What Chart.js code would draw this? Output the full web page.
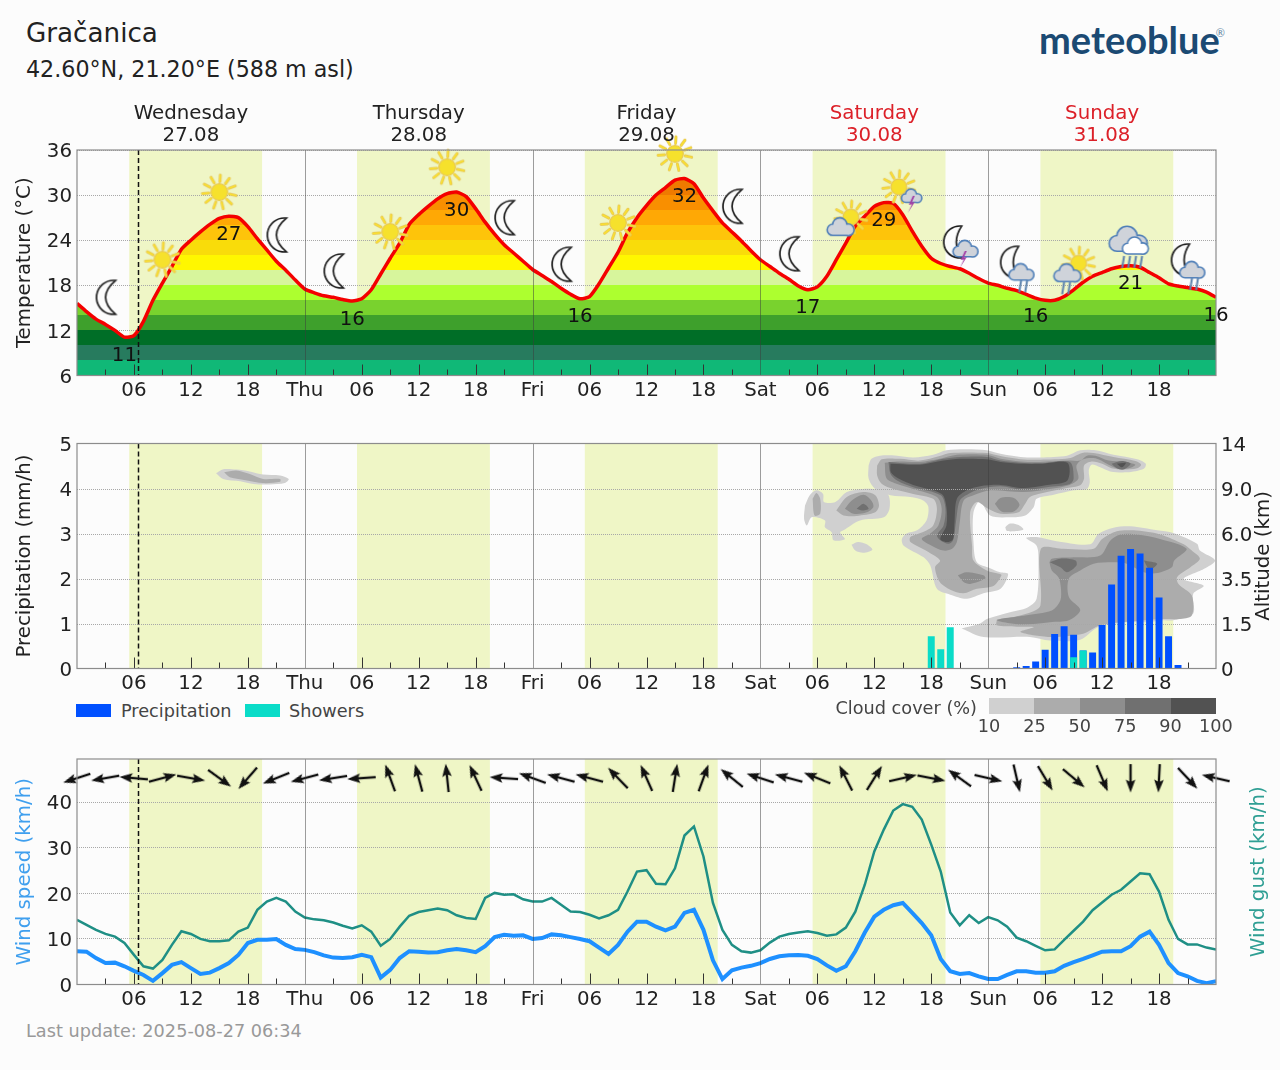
<!DOCTYPE html>
<html>
<head>
<meta charset="utf-8">
<title>Gračanica</title>
<script src="https://cdn.jsdelivr.net/npm/chart.js@4/dist/chart.umd.js"></script>
<style>
    html, body { margin: 0; padding: 0; background: #fcfcfc; }
    body { position: relative; width: 1280px; height: 1070px; overflow: hidden; font-family: "DejaVu Sans", sans-serif; color: #222; }
    canvas { position: absolute; left: 0; }
    .txt { position: absolute; white-space: nowrap; line-height: 1; }
    .swatch { position: absolute; box-sizing: border-box; }
</style>
</head>
<body>
<div class="txt" style="left:26px;top:20px;font-size:26.2px;">Gračanica</div>
<div class="txt" style="left:26px;top:58px;font-size:22.2px;">42.60°N, 21.20°E (588 m asl)</div>
<div class="txt" style="left:1039px;top:20px;font-family:Lato;font-weight:700;font-size:38px;color:#1b4a73;">meteoblue<sup style="font-size:11px;color:#5f87a5;font-weight:400;vertical-align:17px;line-height:0;margin-left:-4px;">®</sup></div>
<div class="txt" style="left:26px;top:1023px;font-size:17.7px;color:#999;">Last update: 2025-08-27 06:34</div>

<canvas id="tempGraph" width="1280" height="320" style="top:90px"></canvas>
<canvas id="precipGraph" width="1280" height="290" style="top:410px"></canvas>
<div id="legendBox"></div>
<canvas id="windGraph" width="1280" height="290" style="top:725px"></canvas>

<script>
/* time axis: hours since Wednesday 00:00 */
const hours = Array.from({length: 121}, (_, i) => i);
const dayNames = ['Wednesday', 'Thursday', 'Friday', 'Saturday', 'Sunday'];
const dayDates = ['27.08', '28.08', '29.08', '30.08', '31.08'];
const dayColors = ['#222222', '#222222', '#222222', '#dc2028', '#dc2028'];
const dayNoons = [12, 36, 60, 84, 108];
const dayShort = ['Thu', 'Fri', 'Sat', 'Sun'];
const daylightStart = [5.5, 29.5, 53.5, 77.5, 101.5];
const daylightEnd = [19.5, 43.5, 67.5, 91.5, 115.5];
const nowHour = 6.4;

/* temperature */
const temperatures = [
    15.6, 14.5, 13.5, 12.8, 12.0, 11.1, 11.3, 13.2, 16.0, 18.3, 20.5, 22.8, 24.0, 25.1, 26.1, 26.9, 27.2, 27.0, 25.8, 24.2, 22.7, 21.2, 20.0, 18.7,
    17.5, 17.0, 16.6, 16.4, 16.1, 15.9, 16.2, 17.4, 19.5, 21.6, 23.6, 26.1, 27.4, 28.5, 29.5, 30.2, 30.4, 29.8, 28.2, 26.4, 24.8, 23.4, 22.3, 21.2,
    20.1, 19.3, 18.5, 17.6, 16.8, 16.2, 16.5, 18.2, 20.3, 22.4, 25.0, 27.0, 28.6, 30.0, 31.0, 32.0, 32.2, 31.5, 29.6, 27.9, 26.3, 25.1, 23.9, 22.6,
    21.4, 20.5, 19.6, 18.8, 17.9, 17.4, 17.8, 19.2, 21.4, 23.6, 25.9, 27.2, 28.5, 29.0, 28.9, 27.4, 25.2, 23.2, 21.6, 20.9, 20.5, 20.2, 19.6, 18.9,
    18.3, 18.0, 17.6, 17.3, 16.8, 16.3, 16.0, 16.0, 16.5, 17.4, 18.4, 19.2, 19.7, 20.2, 20.5, 20.6, 20.4, 19.7, 19.0, 18.2, 17.9, 17.7, 17.5, 17.1, 16.4
];
const tempLabelHours = [5, 16, 29, 40, 53, 64, 77, 85, 101, 111, 120];
const tempBandEdges = [6, 8, 10, 12, 14, 16, 18, 20, 22, 24, 26, 28, 30, 32, 36];
const tempBandColors = ['#10b877', '#277b5e', '#006e27', '#3ea02c', '#79d22e', '#adff2f', '#d7f59c', '#fff700', '#f9dc0a', '#fec40a', '#ffa805', '#f98f00', '#ef7a00', '#e86000'];

/* weather symbols */
const iconHours = [3, 9, 15, 21, 27, 33, 39, 45, 51, 57, 63, 69, 75, 81, 87, 93, 99, 105, 111, 117];
const iconLevels = [16.4, 21.4, 30.4, 24.7, 19.9, 25.1, 33.7, 27.0, 20.8, 26.3, 35.5, 28.5, 22.2, 26.4, 30.3, 22.7, 20.0, 20.0, 22.7, 20.3];
const iconKinds = ['moon', 'sun', 'sun', 'moon', 'moon', 'sun', 'sun', 'moon', 'moon', 'sun', 'sun', 'moon', 'moon', 'sunCloud', 'sunStorm', 'moonStorm', 'moonRain', 'sunRain', 'rainCloud', 'moonRain'];

/* precipitation */
const precipHours = [99, 100, 101, 102, 103, 104, 105, 106, 107, 108, 109, 110, 111, 112, 113, 114, 115, 116];
const precipValues = [0.02, 0.05, 0.15, 0.41, 0.76, 0.93, 0.74, 0.39, 0.35, 0.96, 1.86, 2.50, 2.65, 2.55, 2.23, 1.57, 0.71, 0.07];
const showerHours = [90, 91, 92, 105, 106];
const showerValues = [0.71, 0.42, 0.91, 0.24, 0.39];
const altitudeTicks = ['0', '1.5', '3.5', '6.0', '9.0', '14'];

/* cloud cover outlines as [hour, altitude level] */
const cloudLevels = [10, 25, 50, 75, 90, 100];
const cloudColors = ['#d0d0d0', '#acacac', '#8e8e8e', '#707070', '#525252'];
const cloud10Shapes = [
    [[14.65,4.34],[15.4,4.43],[16.8,4.42],[18.2,4.38],[19.6,4.31],[21.4,4.29],[22.3,4.21],[21.9,4.12],[20.3,4.09],[18.6,4.10],[17.2,4.16],[15.4,4.21]],
    [[76.7,3.62],[77.2,3.85],[77.9,3.96],[78.6,3.88],[78.7,3.70],[79.9,3.70],[81.1,3.92],[82.85,3.99],[84.6,3.96],[85.5,3.85],[85.6,3.55],[85.0,3.36],[82.5,3.29],[80.75,3.07],[80.4,3.02],[80.9,2.87],[79.7,2.85],[79.5,3.03],[78.8,3.14],[78.8,3.29],[77.4,3.36],[76.9,3.18],[76.6,3.33]],
    [[81.6,2.75],[82.3,2.81],[83.2,2.76],[83.8,2.64],[82.85,2.57],[82.0,2.62]],
    [[97.8,3.14],[98.3,3.22],[99.2,3.19],[99.7,3.09],[98.65,3.05],[97.95,3.06]],
    [[83.4,4.51],[83.7,4.66],[84.6,4.73],[86.4,4.73],[88.1,4.69],[90.2,4.75],[91.6,4.85],[93.7,4.87],[95.85,4.85],[97.3,4.77],[99.4,4.70],[101.5,4.69],[104.3,4.73],[105.7,4.85],[107.3,4.85],[109.2,4.75],[111.7,4.65],[112.6,4.55],[112.4,4.44],[110.6,4.36],[108.85,4.38],[107.8,4.47],[106.9,4.53],[106.6,4.40],[106.7,4.14],[106.4,3.99],[105.0,3.96],[102.9,3.86],[101.1,3.77],[100.8,3.59],[99.9,3.40],[98.3,3.36],[96.2,3.40],[95.15,3.73],[94.45,3.47],[94.45,2.81],[94.8,2.36],[96.2,2.23],[97.25,2.14],[98.1,2.10],[97.3,1.77],[95.5,1.67],[93.75,1.55],[92.0,1.64],[90.6,1.77],[89.9,2.29],[89.2,2.47],[87.1,2.73],[86.9,2.88],[87.4,3.0],[88.5,3.07],[89.5,3.29],[89.7,3.59],[89.2,3.73],[87.8,3.81],[85.7,3.85],[84.1,3.99],[83.4,4.22]],
    [[93.2,0.89],[95.15,1.0],[95.85,1.1],[98.3,1.25],[100.1,1.35],[101.1,1.55],[101.3,2.4],[101.1,2.73],[100.0,2.9],[101.1,2.92],[103.2,2.83],[106.75,2.76],[107.6,2.99],[109.2,3.13],[111.0,3.16],[113.8,3.07],[115.5,3.01],[118,2.77],[118.3,2.62],[119.9,2.4],[118.7,2.21],[116.6,1.99],[118.7,1.84],[117.6,1.66],[117.6,1.22],[115.5,1.07],[114.5,1.07],[112.7,1.03],[110.6,1.03],[107.6,0.92],[105.7,0.64],[102.5,0.62],[100.4,0.70],[95.5,0.70]]
];
const cloud25Shapes = [
    [[15.5,4.36],[16.8,4.4],[18.2,4.32],[19.6,4.21],[21.4,4.21],[21.4,4.15],[19.6,4.12],[17.9,4.18],[16.1,4.25]],
    [[77.5,3.77],[77.9,3.90],[78.3,3.77],[78.3,3.44],[77.7,3.40]],
    [[80.0,3.51],[81.1,3.81],[82.85,3.92],[84.1,3.85],[84.5,3.62],[84.1,3.47],[82.15,3.39],[80.75,3.40]],
    [[84.3,4.51],[84.8,4.65],[86.7,4.66],[88.8,4.62],[90.9,4.72],[92.0,4.79],[95.85,4.79],[97.3,4.72],[99.4,4.65],[101.5,4.64],[104.5,4.67],[105.9,4.79],[107.1,4.79],[109.2,4.70],[111.5,4.61],[112.1,4.53],[111.7,4.45],[110.25,4.42],[109.0,4.45],[108.0,4.55],[106.9,4.60],[106.1,4.51],[106.1,4.22],[105.7,4.07],[104.3,4.01],[102.2,3.92],[100.4,3.81],[99.9,3.66],[99.2,3.47],[97.3,3.44],[96.0,3.55],[94.8,3.70],[94.1,3.47],[94.3,2.73],[94.45,2.40],[95.85,2.18],[97.25,2.10],[97.4,2.07],[96.6,1.84],[94.8,1.77],[93.4,1.67],[92.0,1.75],[90.9,1.92],[90.4,2.25],[90.93,2.40],[89.7,2.59],[87.8,2.81],[87.8,2.92],[89.0,3.02],[90.2,3.18],[90.6,3.55],[90.2,3.77],[88.1,3.88],[86.0,3.99],[84.8,4.10],[84.3,4.29]],
    [[96.9,1.07],[100.1,1.22],[101.5,1.40],[101.55,2.66],[103.9,2.66],[107.1,2.66],[108,2.88],[109.55,3.05],[111.3,3.07],[114.1,2.98],[116.6,2.76],[117.45,2.62],[118.3,2.44],[117.3,2.25],[115.9,2.03],[116.05,1.88],[117.45,1.62],[117.45,1.18],[116.05,1.10],[114.5,1.1],[112.4,1.07],[107.8,0.96],[106.0,0.77],[102.5,0.70],[99.4,0.81],[100.8,0.92],[99.0,0.93],[96.9,0.96]]
];
const cloud50Shapes = [
    [[80.9,3.55],[81.6,3.73],[82.85,3.86],[83.7,3.73],[83.9,3.59],[83.2,3.47],[81.8,3.44]],
    [[92.8,2.07],[93.7,2.14],[95.5,2.07],[95.7,2.0],[94.1,1.88],[93.4,1.92]],
    [[96.7,3.66],[97.3,3.79],[98.7,3.79],[99.3,3.64],[98.7,3.49],[97.4,3.49]],
    [[85.1,4.57],[86.4,4.60],[88.8,4.59],[90.9,4.66],[92.7,4.75],[95.85,4.75],[97.3,4.66],[99.4,4.60],[101.5,4.59],[104.6,4.62],[105.7,4.62],[106.4,4.73],[107.3,4.73],[108.7,4.62],[110.25,4.59],[111.5,4.53],[110.8,4.45],[109.55,4.45],[108.5,4.55],[107.3,4.67],[106.0,4.65],[105.3,4.51],[105.5,4.22],[104.6,4.08],[102.5,3.99],[99.7,3.92],[96.2,3.96],[94.45,3.85],[93.4,3.73],[93.0,3.25],[92.7,2.81],[92.2,2.66],[91.3,2.62],[90.05,2.73],[89.0,2.88],[89.9,3.0],[90.75,3.18],[91.1,3.55],[90.6,3.81],[88.1,3.99],[86.4,4.10],[85.3,4.22]],
    [[102.45,2.36],[102.7,2.44],[105,2.47],[107.8,2.51],[108.85,2.84],[109.9,2.98],[111.7,2.98],[114.1,2.88],[116.9,2.66],[115.6,2.4],[115.35,2.25],[113.8,2.12],[112.4,2.14],[110.6,2.33],[109.2,2.36],[107.1,2.33],[105.7,2.18],[104.5,2.0],[104.5,1.59],[105.7,1.30],[104.5,1.07],[102.5,1.03],[99.4,0.98],[96.9,1.08],[99.9,1.18],[102.7,1.29],[103.6,1.51],[103.65,1.81],[103.4,2.03],[102.7,2.18]]
];
const cloud75Shapes = [
    [[82.15,3.55],[82.85,3.66],[83.4,3.55],[82.7,3.51]],
    [[109.0,4.55],[110.1,4.61],[111,4.55],[110.25,4.42],[109.55,4.45]],
    [[102.5,2.36],[103.6,2.44],[105.2,2.4],[105.3,2.29],[104.3,2.14],[103.6,2.25]],
    [[112.4,2.4],[113.8,2.33],[113.0,2.2]],
    [[85.5,4.59],[88.8,4.55],[91.3,4.66],[93.0,4.70],[95.85,4.70],[97.3,4.62],[99.4,4.57],[101.5,4.56],[104.6,4.59],[105.0,4.22],[104.6,4.10],[102.2,4.03],[99.7,3.97],[97.3,4.05],[95.15,3.99],[93.9,3.88],[93.0,3.73],[92.6,3.25],[92.3,2.85],[91.8,2.77],[90.95,2.85],[90.6,2.96],[91.3,3.18],[91.5,3.55],[91.0,3.85],[88.1,4.03],[86.4,4.18],[85.7,4.33]]
];
const cloud90Shapes = [
    [[109.55,4.55],[110.5,4.57],[110.1,4.47]],
    [[85.7,4.55],[88.8,4.53],[91.3,4.62],[93.0,4.66],[95.85,4.65],[97.3,4.59],[99.4,4.55],[101.5,4.55],[104.35,4.57],[104.35,4.18],[102.2,4.08],[99.7,4.01],[97.3,4.08],[95.15,4.05],[93.75,3.96],[92.7,3.77],[92.45,3.25],[92.3,2.88],[91.7,2.81],[90.95,2.88],[91.6,3.18],[91.6,3.59],[91.1,3.88],[88.1,4.08],[86.55,4.22],[85.75,4.36]]
];

/* wind */
const windSpeed = [
    7.3, 7.2, 5.8, 4.7, 4.8, 4.0, 3.0, 2.1, 0.8, 2.5, 4.3, 4.9, 3.6, 2.3, 2.6, 3.6, 4.7, 6.5, 9.1, 9.8, 9.8, 10.0, 8.7, 7.8,
    7.6, 7.1, 6.4, 5.9, 5.8, 6.0, 6.5, 6.0, 1.5, 3.2, 5.8, 7.3, 7.2, 7.0, 7.1, 7.5, 7.8, 7.5, 7.1, 8.4, 10.4, 10.9, 10.7, 10.8,
    10.0, 10.2, 11.0, 10.8, 10.4, 10.0, 9.5, 8.1, 6.7, 8.7, 11.6, 13.8, 13.8, 12.7, 11.9, 12.7, 15.7, 16.4, 12.0, 5.3, 1.2, 3.1, 3.7, 4.1,
    4.7, 5.6, 6.2, 6.4, 6.5, 6.3, 5.6, 4.2, 3.0, 4.0, 7.3, 11.4, 14.9, 16.4, 17.4, 17.9, 15.7, 13.5, 10.8, 5.6, 2.9, 2.3, 2.5, 1.8,
    1.2, 1.2, 2.1, 2.9, 2.9, 2.6, 2.6, 2.9, 4.1, 4.9, 5.6, 6.4, 7.2, 7.3, 7.3, 8.4, 10.5, 11.6, 8.7, 4.7, 2.5, 1.8, 0.8, 0.3, 0.7
];
const windGust = [
    14.2, 13.1, 12.0, 11.1, 10.5, 9.1, 6.5, 4.0, 3.5, 5.4, 8.7, 11.7, 11.1, 10.0, 9.5, 9.5, 9.7, 11.6, 12.5, 16.4, 18.2, 19.0, 18.2, 16.0,
    14.7, 14.3, 14.1, 13.6, 12.9, 12.3, 13.0, 11.6, 8.5, 10.0, 12.7, 15.1, 15.9, 16.3, 16.7, 16.3, 15.2, 14.6, 14.4, 19.0, 20.1, 19.7, 19.8, 18.7,
    18.2, 18.2, 19.0, 17.5, 16.0, 15.9, 15.3, 14.5, 15.2, 16.4, 20.4, 24.8, 25.1, 22.1, 22.0, 25.5, 32.7, 34.7, 28.1, 17.9, 12.0, 8.7, 7.3, 7.0,
    7.5, 9.2, 10.5, 11.1, 11.4, 11.7, 11.3, 10.7, 11.0, 12.5, 16.0, 21.9, 29.2, 34.0, 38.2, 39.6, 39.0, 36.2, 30.7, 24.8, 15.8, 13.0, 15.2, 13.5,
    14.8, 14.1, 12.7, 10.3, 9.5, 8.5, 7.5, 7.7, 9.8, 11.8, 13.8, 16.3, 18.0, 19.7, 20.8, 22.6, 24.4, 24.2, 20.4, 14.2, 10.0, 8.8, 8.8, 8.1, 7.7
];
const windArrowHours = [0, 3, 6, 9, 12, 15, 18, 21, 24, 27, 30, 33, 36, 39, 42, 45, 48, 51, 54, 57, 60, 63, 66, 69, 72, 75, 78, 81, 84, 87, 90, 93, 96, 99, 102, 105, 108, 111, 114, 117, 120];
const windArrowBearings = [252, 260, 275, 75, 100, 126, 221, 248, 255, 261, 266, 340, 345, 354, 335, 274, 290, 285, 285, 316, 336, 9, 20, 309, 288, 285, 292, 333, 32, 77, 101, 306, 103, 167, 149, 130, 157, 180, 183, 137, 283];
const windArrowLevel = 45.3;

const tickFont = {family: '"DejaVu Sans"', size: 19.8};
const tickColor = '#222';
const gridColor = '#a8a8a8';

/* --- sprites used as point styles --- */
function newSprite(size) {
    const c = document.createElement('canvas');
    c.width = size;
    c.height = size;
    return c;
}

function drawSun(ctx, cx, cy, k) {
    ctx.lineCap = 'round';
    for (let i = 0; i < 11; i++) {
        const a = i * Math.PI * 2 / 11 + 0.2;
        const x1 = cx + Math.cos(a) * 10.5 * k, y1 = cy + Math.sin(a) * 10.5 * k;
        const x2 = cx + Math.cos(a) * 17 * k, y2 = cy + Math.sin(a) * 17 * k;
        ctx.strokeStyle = '#e6c75a';
        ctx.lineWidth = 3;
        ctx.beginPath(); ctx.moveTo(x1, y1); ctx.lineTo(x2, y2); ctx.stroke();
        ctx.strokeStyle = '#fbe22c';
        ctx.lineWidth = 1.4;
        ctx.beginPath(); ctx.moveTo(x1, y1); ctx.lineTo(x2, y2); ctx.stroke();
    }
    ctx.beginPath();
    ctx.arc(cx, cy, 8.3 * k, 0, Math.PI * 2);
    ctx.fillStyle = '#f6e12c';
    ctx.fill();
    ctx.strokeStyle = '#e9c84e';
    ctx.lineWidth = 1.2;
    ctx.stroke();
}

function drawMoon(ctx, cx, cy, r, bite) {
    ctx.beginPath();
    ctx.arc(cx, cy, r, -1.45, 1.45, true);
    ctx.quadraticCurveTo(cx - r * bite, cy, cx + r * Math.cos(1.45), cy - r * Math.sin(1.45));
    ctx.closePath();
    ctx.fillStyle = '#fcfcfc';
    ctx.fill();
    ctx.strokeStyle = '#1c1c1c';
    ctx.lineWidth = 1.7;
    ctx.stroke();
}

function drawCloud(ctx, cx, cy, s, fill) {
    const lobes = [[-0.58, 0.12, 0.38], [-0.08, -0.22, 0.5], [0.52, 0.12, 0.4]];
    const paint = (grow) => {
        ctx.beginPath();
        lobes.forEach((l) => {
            ctx.moveTo(cx + l[0] * s + l[2] * s + grow, cy + l[1] * s);
            ctx.arc(cx + l[0] * s, cy + l[1] * s, l[2] * s + grow, 0, Math.PI * 2);
        });
        ctx.rect(cx - 0.58 * s, cy + 0.1 * s - grow, 1.1 * s, 0.4 * s + grow * 2);
        ctx.fill();
    };
    ctx.fillStyle = '#4f7fb8';
    paint(1.1);
    ctx.fillStyle = fill;
    paint(-0.5);
}

function drawRain(ctx, x, y, n) {
    ctx.strokeStyle = '#5d83ad';
    ctx.lineWidth = 2;
    ctx.lineCap = 'butt';
    for (let i = 0; i < n; i++) {
        ctx.beginPath();
        ctx.moveTo(x + i * 6 + 1.5, y);
        ctx.lineTo(x + i * 6 - 0.5, y + 12);
        ctx.stroke();
    }
}

function drawBolt(ctx, x, y) {
    ctx.fillStyle = '#a23fa6';
    ctx.beginPath();
    ctx.moveTo(x + 2, y - 8);
    ctx.lineTo(x - 2, y + 1);
    ctx.lineTo(x + 1, y + 0.5);
    ctx.lineTo(x - 3, y + 9);
    ctx.lineTo(x + 4, y - 2);
    ctx.lineTo(x + 1, y - 1.5);
    ctx.lineTo(x + 4, y - 8);
    ctx.closePath();
    ctx.fill();
}

function makeIcon(kind) {
    const c = newSprite(72);
    const ctx = c.getContext('2d');
    ctx.translate(36, 36);
    if (kind === 'sun') {
        drawSun(ctx, 0, 0, 1);
    } else if (kind === 'moon') {
        drawMoon(ctx, 8, 0, 17, 1.05);
    } else if (kind === 'sunCloud') {
        drawSun(ctx, 5, -5, 0.95);
        drawCloud(ctx, -5, 6, 14, '#cfd3da');
    } else if (kind === 'sunStorm') {
        drawSun(ctx, -4, -6, 0.95);
        drawCloud(ctx, 9, 4, 10.5, '#cfd3da');
        drawBolt(ctx, 8, 11);
    } else if (kind === 'moonStorm') {
        drawMoon(ctx, 0, -8, 16, 0.55);
        drawCloud(ctx, 6, 0, 13, '#cfd3da');
        drawBolt(ctx, 3, 9);
    } else if (kind === 'moonRain') {
        drawMoon(ctx, 0, -8, 16, 0.55);
        drawRain(ctx, 3, 10, 2);
        drawCloud(ctx, 5, 3, 13, '#cfd3da');
    } else if (kind === 'sunRain') {
        drawSun(ctx, 5, -7, 0.95);
        drawRain(ctx, -11, 12, 2);
        drawCloud(ctx, -6, 4, 14, '#cfd3da');
    } else if (kind === 'rainCloud') {
        drawRain(ctx, -8, 6, 4);
        drawCloud(ctx, -2, -9, 20, '#cfd3da');
        drawCloud(ctx, 5, -3, 13.5, '#ffffff');
    }
    return c;
}

function makeWindArrow() {
    const c = newSprite(34);
    const ctx = c.getContext('2d');
    ctx.translate(17, 17);
    ctx.strokeStyle = '#111';
    ctx.lineWidth = 2.4;
    ctx.beginPath();
    ctx.moveTo(0, 14);
    ctx.lineTo(0, -6);
    ctx.stroke();
    ctx.fillStyle = '#111';
    ctx.beginPath();
    ctx.moveTo(0, -14.5);
    ctx.lineTo(4.8, -1.5);
    ctx.lineTo(0, -4);
    ctx.lineTo(-4.8, -1.5);
    ctx.closePath();
    ctx.fill();
    return c;
}

/* --- shared axes --- */
function hourLabel(value) {
    if (value === 0 || value === 120) return '';
    if (value % 24 === 0) return dayShort[value / 24 - 1];
    if (value % 6 === 0) return String(value % 24).padStart(2, '0');
    return '';
}

function hourAxis(height) {
    return {
        type: 'linear',
        min: 0,
        max: 120,
        offset: false,
        grid: {display: false, offset: false, drawTicks: false},
        border: {display: false},
        ticks: {stepSize: 3, autoSkip: false, maxRotation: 0, minRotation: 0, padding: 3, font: tickFont, color: tickColor, callback: hourLabel},
        afterFit(scale) { scale.height = height; }
    };
}

function valueAxis(min, max, step, showGrid) {
    return {
        type: 'linear',
        min: min,
        max: max,
        grid: {display: showGrid, color: gridColor, lineWidth: 1, drawTicks: false},
        border: {display: false, dash: [1, 1]},
        ticks: {stepSize: step, includeBounds: false, padding: 5, labelOffset: 2, font: tickFont, color: tickColor},
        afterFit(scale) { scale.width = 77; }
    };
}

function rotatedText(ctx, text, x, y, color) {
    ctx.save();
    ctx.translate(x, y);
    ctx.rotate(-Math.PI / 2);
    ctx.font = '19.8px "DejaVu Sans"';
    ctx.fillStyle = color;
    ctx.textAlign = 'center';
    ctx.textBaseline = 'middle';
    ctx.fillText(text, 0, 0);
    ctx.restore();
}

/* daylight bands, hour ticks, day separators, now marker, frame and side titles */
function panelPlugin(sideTitles) {
    return {
        id: 'panel',
        beforeDraw(chart) {
            const ctx = chart.ctx, x = chart.scales.x, area = chart.chartArea;
            ctx.save();
            ctx.fillStyle = '#eff6c6';
            daylightStart.forEach((start, i) => {
                const left = x.getPixelForValue(start);
                ctx.fillRect(left, area.top, x.getPixelForValue(daylightEnd[i]) - left, area.bottom - area.top);
            });
            ctx.restore();
        },
        afterDatasetsDraw(chart) {
            const ctx = chart.ctx, x = chart.scales.x, area = chart.chartArea;
            ctx.save();
            ctx.lineWidth = 1;
            for (let h = 3; h < 120; h += 3) {
                const px = Math.round(x.getPixelForValue(h)) + 0.5;
                ctx.beginPath();
                if (h % 24 === 0) {
                    ctx.strokeStyle = 'rgba(60,60,60,0.5)';
                    ctx.moveTo(px, area.top);
                } else {
                    ctx.strokeStyle = '#333';
                    ctx.moveTo(px, area.bottom - (h % 6 === 0 ? 11 : 6));
                }
                ctx.lineTo(px, area.bottom);
                ctx.stroke();
            }
            const nowX = Math.round(x.getPixelForValue(nowHour)) + 0.5;
            ctx.strokeStyle = '#111';
            ctx.lineWidth = 1.5;
            ctx.setLineDash([5, 3]);
            ctx.beginPath();
            ctx.moveTo(nowX, area.top);
            ctx.lineTo(nowX, area.bottom);
            ctx.stroke();
            ctx.setLineDash([]);
            ctx.strokeStyle = '#8c8c8c';
            ctx.lineWidth = 1.2;
            ctx.strokeRect(area.left, area.top, area.right - area.left, area.bottom - area.top);
            ctx.restore();
        },
        afterDraw(chart) {
            const area = chart.chartArea;
            sideTitles.forEach((t) => {
                rotatedText(chart.ctx, t.text, t.x, (area.top + area.bottom) / 2, t.color);
            });
        }
    };
}

/* stepped colour fill under the temperature line */
const tempFillPlugin = {
    id: 'tempFill',
    afterLayout(chart) {
        const y = chart.scales.y;
        const top = y.getPixelForValue(y.max), bottom = y.getPixelForValue(y.min);
        const gradient = chart.ctx.createLinearGradient(0, bottom, 0, top);
        tempBandColors.forEach((color, i) => {
            gradient.addColorStop((tempBandEdges[i] - y.min) / (y.max - y.min), color);
            gradient.addColorStop((tempBandEdges[i + 1] - y.min) / (y.max - y.min), color);
        });
        chart.data.datasets[1].backgroundColor = gradient;
    }
};

/* day headings above the plot and the extreme values on the curve */
const tempTextPlugin = {
    id: 'tempText',
    afterDraw(chart) {
        const ctx = chart.ctx, x = chart.scales.x, y = chart.scales.y, area = chart.chartArea;
        ctx.save();
        ctx.font = '19.8px "DejaVu Sans"';
        ctx.textAlign = 'center';
        ctx.textBaseline = 'middle';
        dayNames.forEach((name, i) => {
            ctx.fillStyle = dayColors[i];
            ctx.fillText(name, x.getPixelForValue(dayNoons[i]), area.top - 36);
            ctx.fillText(dayDates[i], x.getPixelForValue(dayNoons[i]), area.top - 14);
        });
        ctx.fillStyle = '#111';
        tempLabelHours.forEach((h) => {
            ctx.fillText(String(Math.round(temperatures[h])), x.getPixelForValue(h), y.getPixelForValue(temperatures[h]) + 18.5);
        });
        ctx.restore();
    }
};

/* horizontal dotted lines run over the cloud fill but under the bars */
const precipGridPlugin = {
    id: 'precipGrid',
    beforeDatasetDraw(chart, args) {
        if (args.index !== 1) return;
        const ctx = chart.ctx, y = chart.scales.y, area = chart.chartArea;
        ctx.save();
        ctx.strokeStyle = gridColor;
        ctx.lineWidth = 1;
        ctx.setLineDash([1, 1]);
        [1, 2, 3, 4].forEach((v) => {
            const py = Math.round(y.getPixelForValue(v)) + 0.5;
            ctx.beginPath();
            ctx.moveTo(area.left, py);
            ctx.lineTo(area.right, py);
            ctx.stroke();
        });
        ctx.restore();
    }
};

function xySeries(xs, ys) {
    return xs.map((x, i) => ({x: x, y: ys[i]}));
}

/* --- temperature panel --- */
const tempGraphConfig = {
    type: 'scatter',
    data: {
        datasets: [{
            data: xySeries(iconHours, iconLevels),
            pointStyle: iconKinds.map(makeIcon),
            pointRadius: 5,
            clip: false
        }, {
            data: xySeries(hours, temperatures),
            showLine: true,
            fill: 'start',
            borderColor: '#f40000',
            borderWidth: 3.5,
            pointRadius: 0,
            tension: 0.2
        }]
    },
    options: {
        responsive: false,
        animation: false,
        events: [],
        layout: {padding: {top: 60, right: 64}},
        plugins: {legend: {display: false}, tooltip: {enabled: false}},
        scales: {x: hourAxis(34.5), y: valueAxis(6, 36, 6, true)}
    },
    plugins: [tempFillPlugin, panelPlugin([{text: 'Temperature (°C)', x: 25, color: '#222'}]), tempTextPlugin]
};

/* --- precipitation and cloud cover panel --- */
const cloudDatasets = [];
[cloud90Shapes, cloud75Shapes, cloud50Shapes, cloud25Shapes, cloud10Shapes].forEach((shapes, i) => {
    const color = cloudColors[4 - i];
    shapes.forEach((shape) => {
        cloudDatasets.push({
            yAxisID: 'y1',
            data: shape.concat([shape[0]]).map((p) => ({x: p[0], y: p[1]})),
            showLine: true,
            fill: 'shape',
            backgroundColor: color,
            borderWidth: 0,
            pointRadius: 0,
            tension: 0.3
        });
    });
});

const altitudeAxis = valueAxis(0, 5, 1, false);
altitudeAxis.position = 'right';
altitudeAxis.ticks.callback = (value) => altitudeTicks[value];
altitudeAxis.afterFit = (scale) => { scale.width = 64; };

const precipGraphConfig = {
    type: 'scatter',
    data: {
        datasets: [{
            type: 'bar',
            data: xySeries(showerHours, showerValues),
            backgroundColor: '#0adcc8',
            barThickness: 6.3,
            grouped: false
        }, {
            type: 'bar',
            data: xySeries(precipHours, precipValues),
            backgroundColor: '#0050ff',
            barThickness: 6.3,
            grouped: false
        }].concat(cloudDatasets)
    },
    options: {
        responsive: false,
        animation: false,
        events: [],
        layout: {padding: {top: 33.5}},
        plugins: {legend: {display: false}, tooltip: {enabled: false}},
        scales: {x: hourAxis(31.5), y: valueAxis(0, 5, 1, false), y1: altitudeAxis}
    },
    plugins: [panelPlugin([
        {text: 'Precipitation (mm/h)', x: 25, color: '#222'},
        {text: 'Altitude (km)', x: 1264, color: '#222'}
    ]), precipGridPlugin]
};

/* --- wind panel --- */
const windGraphConfig = {
    type: 'scatter',
    data: {
        datasets: [{
            data: windArrowHours.map((h) => ({x: h, y: windArrowLevel})),
            pointStyle: makeWindArrow(),
            pointRotation: windArrowBearings,
            pointRadius: 5,
            clip: false
        }, {
            data: xySeries(hours, windSpeed),
            showLine: true,
            borderColor: '#1e90ff',
            borderWidth: 4,
            pointRadius: 0,
            tension: 0
        }, {
            data: xySeries(hours, windGust),
            showLine: true,
            borderColor: '#1f8f85',
            borderWidth: 2.5,
            pointRadius: 0,
            tension: 0
        }]
    },
    options: {
        responsive: false,
        animation: false,
        events: [],
        layout: {padding: {top: 34, right: 64}},
        plugins: {legend: {display: false}, tooltip: {enabled: false}},
        scales: {x: hourAxis(30.5), y: valueAxis(0, 49.5, 10, true)}
    },
    plugins: [panelPlugin([
        {text: 'Wind speed (km/h)', x: 25, color: '#3f9fee'},
        {text: 'Wind gust (km/h)', x: 1259, color: '#2f9f94'}
    ])]
};

/* --- legend row under the precipitation panel --- */
function addText(text, x, y, align) {
    const el = document.createElement('div');
    el.className = 'txt';
    el.textContent = text;
    el.style.fontSize = '17.7px';
    el.style.color = '#444';
    el.style.top = (y - 8) + 'px';
    if (align === 'center') {
        el.style.left = x + 'px';
        el.style.transform = 'translateX(-50%)';
    } else if (align === 'right') {
        el.style.right = (1280 - x) + 'px';
    } else {
        el.style.left = x + 'px';
    }
    document.getElementById('legendBox').appendChild(el);
}

function addSwatch(x, y, w, h, color) {
    const el = document.createElement('div');
    el.className = 'swatch';
    el.style.cssText += 'left:' + x + 'px;top:' + y + 'px;width:' + w + 'px;height:' + h + 'px;background:' + color + ';';
    document.getElementById('legendBox').appendChild(el);
}

addSwatch(76, 704, 35, 13, '#0050ff');
addText('Precipitation', 121, 711);
addSwatch(245, 704, 35, 13, '#0adcc8');
addText('Showers', 289, 711);
addText('Cloud cover (%)', 977, 708, 'right');
cloudColors.forEach((color, i) => {
    addSwatch(989 + i * 45.4, 698, 45.4, 16, color);
});
cloudLevels.forEach((level, i) => {
    addText(String(level), 989 + i * 45.4, 726, 'center');
});

//Display the graphs
var tempChart = new Chart(document.getElementById('tempGraph'), tempGraphConfig);
var precipChart = new Chart(document.getElementById('precipGraph'), precipGraphConfig);
var windChart = new Chart(document.getElementById('windGraph'), windGraphConfig);
</script>
</body>
</html>
